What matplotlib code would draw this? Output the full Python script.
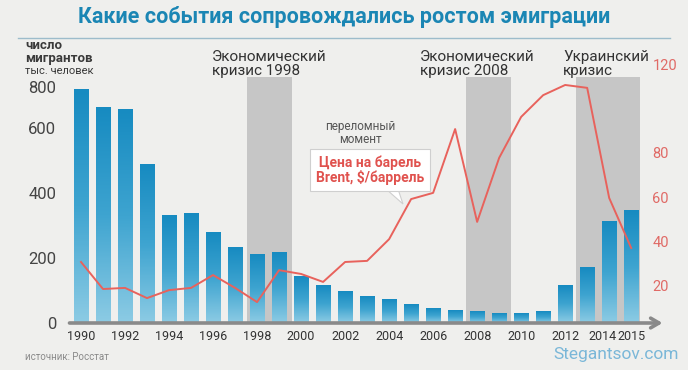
import numpy as np
import matplotlib
matplotlib.use('Agg')
import matplotlib.pyplot as plt
from matplotlib.colors import LinearSegmentedColormap
from matplotlib.patches import Polygon
import matplotlib.transforms as mtransforms

# data
years = list(range(1990, 2016))
migrants = [720, 662, 656, 489, 332, 338, 280, 231, 212, 218, 142, 114, 98, 83,
            71, 58, 46, 40, 34, 28, 28, 34, 114, 172, 311, 345]
brent = [30.7, 18.5, 19.0, 14.4, 18.0, 19.0, 24.8, 19.0, 12.6, 27.0, 25.3, 21.7,
         30.7, 31.2, 41.0, 59.1, 61.9, 90.7, 48.8, 77.7, 96.2, 106.0, 110.6,
         109.3, 59.6, 37.0]
crises = [(1997.55, 1999.6, 'Экономический\nкризис 1998'),
          (2007.5, 2009.55, 'Экономический\nкризис 2008'),
          (2012.5, 2015.4, 'Украинский\nкризис')]
year_ticks = [1990, 1992, 1994, 1996, 1998, 2000, 2002, 2004, 2006, 2008, 2010, 2012, 2014, 2015]
left_ticks = [0, 200, 400, 600, 726]   # the "800" label sits lower in the original
left_labels = ['0', '200', '400', '600', '800']
right_ticks = [20, 40, 60, 80, 120]

plt.rcParams['font.family'] = ['Roboto', 'DejaVu Sans']

W, H = 688, 370
BG = '#efefed'
BLUE_TXT = '#1b86b4'
RED = '#e8625c'


def px(x, y):
    return x / W, 1 - y / H


fig = plt.figure(figsize=(W / 100, H / 100), dpi=100, facecolor=BG)
ax = fig.add_axes([59 / W, 47 / H, 592 / W, 283 / H])
ax.set_facecolor('none')
ax2 = ax.twinx()
ax2.set_facecolor('none')

xmin, xmax = 1989.0, 2015.9
ylim_left = (0, 870.8)
ylim_right = (3.16, 130.9)

# grey crisis bands
band_top = 757
for x0, x1, label in crises:
    ax.fill_between([x0, x1], 0, band_top, color='#c6c6c6', lw=0, zorder=1)

# gradient bars
cmap = LinearSegmentedColormap.from_list('bar', ['#8ccbe4', '#3ea4d0', '#178bc1'])
grad = np.linspace(0, 1, 100).reshape(-1, 1)
bw = 0.64
for yr, v in zip(years, migrants):
    ax.imshow(grad, extent=[yr - bw / 2, yr + bw / 2, 0, v], origin='lower',
              aspect='auto', cmap=cmap, zorder=2, interpolation='bilinear')

ax.set_xlim(xmin, xmax)
ax.set_ylim(*ylim_left)

# baseline arrow
ax.annotate('', xy=(2016.55, 0), xytext=(1989.35, 0), annotation_clip=False,
            arrowprops=dict(arrowstyle='->,head_length=0.6,head_width=0.35',
                            color='#8a8a8a', lw=2.6), zorder=3)

# oil line
ax2.plot(years, brent, color=RED, lw=1.4, zorder=4)
ax2.set_ylim(*ylim_right)
ax2.set_xlim(xmin, xmax)

for a in (ax, ax2):
    for s in a.spines.values():
        s.set_visible(False)

ax.set_xticks(year_ticks)
ax.set_xticklabels([str(y) for y in year_ticks])
ax.tick_params(axis='x', length=0, pad=5, labelsize=9, labelcolor='#333333')
for lbl in ax.get_xticklabels():
    if lbl.get_text() == '2014':
        lbl.set_transform(lbl.get_transform() +
                          mtransforms.ScaledTranslation(-5 / 72, 0, fig.dpi_scale_trans))

ax.set_yticks(left_ticks)
ax.set_yticklabels(left_labels)
ax.tick_params(axis='y', length=0, pad=2, labelsize=12, labelcolor='#444444')

ax2.set_yticks(right_ticks)
ax2.set_yticklabels([str(t) for t in right_ticks])
ax2.tick_params(axis='y', length=0, pad=1, labelsize=10.5, labelcolor='#e06a66')

# title and rule
fig.text(*px(344, 17), 'Какие события сопровождались ростом эмиграции',
         ha='center', va='center', fontsize=15.5, fontweight='bold', color=BLUE_TXT)
fig.add_artist(plt.Line2D([18 / W, 670 / W], [1 - 38 / H, 1 - 38 / H],
                          color='#9dbccb', lw=1))

# left axis caption
fig.text(*px(25, 52), 'число\nмигрантов', ha='left', va='center', fontsize=9.5,
         fontweight='bold', color='#3a3a3a', linespacing=0.95)
fig.text(*px(25, 71), 'тыс. человек', ha='left', va='center', fontsize=8,
         color='#3a3a3a')

# crisis labels
for (x0, x1, label), xpix in zip(crises, [212, 420, 563]):
    fig.text(*px(xpix, 64), label, ha='left', va='center', fontsize=11,
             color='#333333', linespacing=1.0)

fig.text(*px(360, 133), 'переломный\nмомент', ha='center', va='center',
         fontsize=8.5, color='#555555', linespacing=0.95)

# callout for the oil price line
fig.text(*px(370, 170), 'Цена на барель\nBrent, $/баррель', ha='center', va='center',
         fontsize=10, fontweight='bold', color='#e0524e', linespacing=1.0,
         bbox=dict(boxstyle='square,pad=0.45', fc='white', ec='#cfcfcf', lw=0.8),
         zorder=6)
pointer = Polygon([px(386, 189), px(398, 189), px(403, 204)], closed=True,
                  fc='white', ec='#cfcfcf', lw=0.8, transform=fig.transFigure, zorder=5)
fig.add_artist(pointer)

# footer
fig.text(*px(25, 357), 'источник: Росстат', ha='left', va='center', fontsize=7,
         color='#8a8a8a')
fig.text(*px(679, 355), 'Stegantsov.com', ha='right', va='center', fontsize=12.5,
         color='#7ab7d8')

fig.savefig('out.png', dpi=100, facecolor=BG)
